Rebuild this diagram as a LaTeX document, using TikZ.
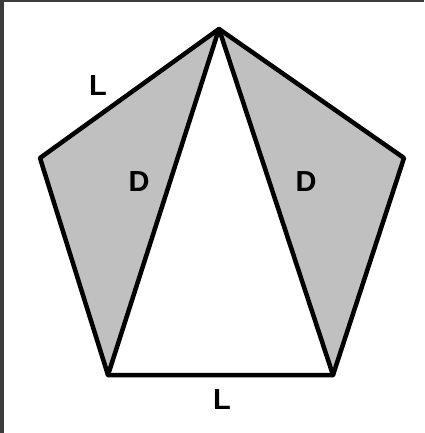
\documentclass[tikz,border=0pt]{standalone}
\usepackage{fontspec}
\setmainfont{Liberation Sans}
\definecolor{frame}{HTML}{3C3C3C}
\definecolor{greyfill}{HTML}{C0C0C0}
\begin{document}
\begin{tikzpicture}[x=1pt,y=-1pt,
  edge/.style={draw=black,line width=4.5pt,line join=round,line cap=round},
  lab/.style={font=\bfseries\fontsize{29}{29}\selectfont,inner sep=0pt}]
\useasboundingbox (0,0) rectangle (424,433);
\fill[white] (0,0) rectangle (424,433);
\fill[frame] (0,0) rectangle (4,433);
\fill[frame] (0,0) rectangle (424,2);
\coordinate (T) at (219,29);
\coordinate (A) at (40,158);
\coordinate (B) at (404,158);
\coordinate (C) at (108,375);
\coordinate (E) at (333,375);
\fill[greyfill] (T) -- (A) -- (C) -- cycle;
\fill[greyfill] (T) -- (B) -- (E) -- cycle;
\draw[edge] (T) -- (A) -- (C) -- (E) -- (B) -- cycle;
\draw[edge] (C) -- (T) -- (E);
\node[lab] (l1) at (98,86) {L};
\node[lab] (d1) at (139,182) {D};
\node[lab] (d2) at (306,182) {D};
\node[lab] (l2) at (222,400) {L};
\end{tikzpicture}
\end{document}
